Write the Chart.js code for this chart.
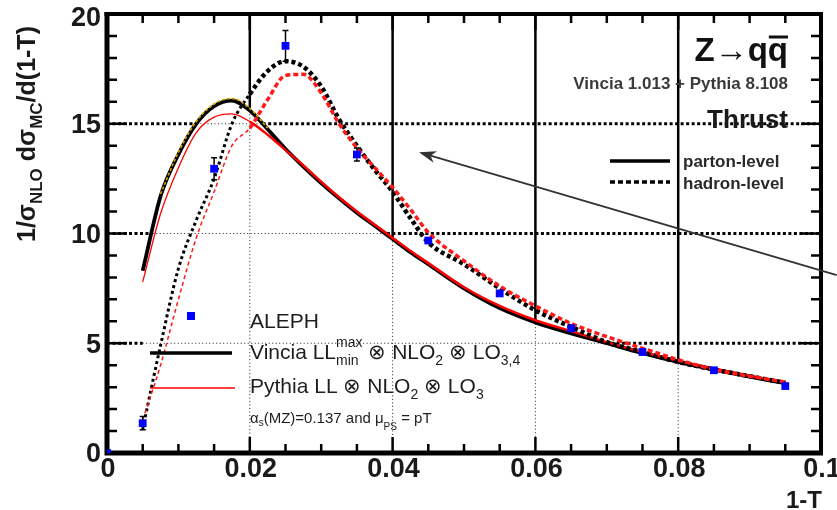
<!DOCTYPE html>
<html>
<head>
<meta charset="utf-8">
<script src="https://cdn.jsdelivr.net/npm/chart.js@4.4.0/dist/chart.umd.min.js"></script>
<style>
html,body{margin:0;padding:0;background:#fff;}
#c{display:block;}
</style>
</head>
<body>
<canvas id="c" width="837" height="510"></canvas>
<script>
// ---------- data ----------
const xTicks = [0, 0.02, 0.04, 0.06, 0.08, 0.1];
const xTickLabels = ['0', '0.02', '0.04', '0.06', '0.08', '0.1'];
const yTicks = [0, 5, 10, 15, 20];
const yTickLabels = ['0', '5', '10', '15', '20'];
const hGridValues = [5, 10, 15];
const vGridValues = [0.02, 0.04, 0.06, 0.08];

const binX = [0.005, 0.0075, 0.010, 0.0125, 0.015, 0.0175, 0.020, 0.0225, 0.025, 0.0275, 0.030, 0.0325, 0.035, 0.0375, 0.040, 0.0425, 0.045, 0.050, 0.055, 0.060, 0.065, 0.070, 0.075, 0.080, 0.085, 0.090, 0.095];
const vinciaParton = [8.3, 11.7, 13.6, 15.0, 15.8, 16.05, 15.6, 14.75, 13.85, 13.05, 12.3, 11.6, 10.95, 10.35, 9.75, 9.15, 8.6, 7.5, 6.6, 5.95, 5.45, 5.0, 4.55, 4.15, 3.8, 3.48, 3.18];
const pythiaParton = [7.8, 10.9, 13.0, 14.6, 15.3, 15.45, 15.1, 14.5, 13.8, 13.1, 12.35, 11.65, 11.0, 10.4, 9.8, 9.2, 8.65, 7.55, 6.7, 6.05, 5.55, 5.05, 4.6, 4.2, 3.85, 3.52, 3.22];
const vinciaHadron = [1.1, 4.9, 8.4, 10.6, 12.5, 15.0, 16.35, 17.4, 17.85, 17.6, 16.7, 15.2, 14.0, 12.9, 11.9, 10.7, 9.6, 8.6, 7.5, 6.5, 5.75, 5.05, 4.6, 4.15, 3.8, 3.5, 3.2];
const pythiaHadron = [1.5, 4.0, 7.0, 9.8, 11.9, 14.0, 14.8, 16.1, 17.2, 17.25, 16.4, 15.0, 13.9, 13.0, 12.1, 11.1, 10.05, 8.75, 7.6, 6.7, 5.9, 5.3, 4.77, 4.25, 3.8, 3.5, 3.23];

const goldX = [0.0075, 0.010, 0.0125, 0.015, 0.0175, 0.020, 0.0225];
const goldY = [11.8, 13.7, 15.1, 15.9, 16.15, 15.7, 14.8];

const alephX = [0.0, 0.005, 0.015, 0.025, 0.035, 0.045, 0.055, 0.065, 0.075, 0.085, 0.095];
const alephY = [0.0, 1.36, 12.95, 18.55, 13.6, 9.68, 7.27, 5.68, 4.6, 3.77, 3.05];
const alephErr = [0.05, 0.3, 0.5, 0.7, 0.3, 0.2, 0.15, 0.1, 0.1, 0.08, 0.08];

// arrow annotation, in data units: tail then tip
const arrowFrom = [0.1022, 8.1];
const arrowTo = [0.0437, 13.7];

// ---------- helpers ----------
const pts = (xs, ys) => xs.map((x, i) => ({x: x, y: ys[i]}));
function interp(xs, ys, xv) {
  if (xv < xs[0] || xv > xs[xs.length - 1]) return -Infinity;
  for (let i = 0; i < xs.length - 1; i++) {
    if (xv >= xs[i] && xv <= xs[i + 1]) {
      const t = (xv - xs[i]) / (xs[i + 1] - xs[i]);
      return ys[i] + t * (ys[i + 1] - ys[i]);
    }
  }
  return ys[ys.length - 1];
}
function envelope(xv) {
  return Math.max(interp(binX, vinciaParton, xv), interp(binX, pythiaParton, xv));
}
const FONT = '"Liberation Sans", Arial, Helvetica, sans-serif';
function rich(ctx, x, y, parts, color) {
  let cx = x;
  ctx.fillStyle = color;
  ctx.textAlign = 'left';
  ctx.textBaseline = 'alphabetic';
  for (const p of parts) {
    if (p.stack) {
      let w = 0;
      for (const s of p.stack) {
        ctx.font = (s.bold ? 'bold ' : '') + s.size + 'px ' + FONT;
        ctx.fillText(s.t, cx, y + (s.dy || 0));
        w = Math.max(w, ctx.measureText(s.t).width);
      }
      cx += w;
    } else {
      ctx.font = (p.bold ? 'bold ' : '') + p.size + 'px ' + FONT;
      ctx.fillText(p.t, cx, y + (p.dy || 0));
      cx += ctx.measureText(p.t).width;
    }
  }
  return cx;
}

const decor = {
  id: 'decor',
  beforeDatasetsDraw(chart) {
    const {ctx, scales: {x, y}} = chart;
    const X = v => x.getPixelForValue(v), Y = v => y.getPixelForValue(v);
    ctx.save();
    // horizontal grid: thick dotted where above the curves, thin dotted below
    const drawH = (x0, x1, gv, thin) => {
      ctx.beginPath();
      if (thin) { ctx.lineWidth = 1; ctx.setLineDash([1, 2.5]); ctx.strokeStyle = '#222'; }
      else { ctx.lineWidth = 3; ctx.setLineDash([3, 2.5]); ctx.strokeStyle = '#000'; }
      ctx.moveTo(X(x0), Y(gv)); ctx.lineTo(X(x1), Y(gv)); ctx.stroke();
    };
    for (const gv of hGridValues) {
      const step = 0.0002;
      let start = 0, thin = envelope(0) > gv;
      for (let k = 1; k <= 500; k++) {
        const xv = k * step;
        const t = envelope(xv) > gv;
        if (t !== thin || k === 500) {
          drawH(start, xv, gv, thin);
          start = xv; thin = t;
        }
      }
    }
    // vertical grid: solid above curves, thin dotted below
    for (const gv of vGridValues) {
      const e = envelope(gv);
      ctx.setLineDash([]); ctx.lineWidth = 2.5; ctx.strokeStyle = '#000';
      ctx.beginPath(); ctx.moveTo(X(gv), Y(20)); ctx.lineTo(X(gv), Y(e)); ctx.stroke();
      ctx.setLineDash([1, 2.5]); ctx.lineWidth = 1; ctx.strokeStyle = '#222';
      ctx.beginPath(); ctx.moveTo(X(gv), Y(e)); ctx.lineTo(X(gv), Y(0)); ctx.stroke();
    }
    ctx.setLineDash([]);
    ctx.strokeStyle = '#000';
    // ticks
    ctx.lineWidth = 2.5;
    for (let i = 0; i <= 20; i++) {
      const len = i % 5 === 0 ? 20 : 10;
      ctx.beginPath();
      ctx.moveTo(X(0), Y(i)); ctx.lineTo(X(0) + len, Y(i));
      ctx.moveTo(X(0.1), Y(i)); ctx.lineTo(X(0.1) - len, Y(i));
      ctx.stroke();
    }
    for (let i = 0; i <= 20; i++) {
      const xv = i * 0.005;
      const len = i % 4 === 0 ? 16 : 9;
      ctx.beginPath();
      ctx.moveTo(X(xv), Y(0)); ctx.lineTo(X(xv), Y(0) - len);
      ctx.moveTo(X(xv), Y(20)); ctx.lineTo(X(xv), Y(20) + len);
      ctx.stroke();
    }
    // frame
    ctx.lineWidth = 5;
    ctx.beginPath();
    ctx.moveTo(X(0), Y(20) - 2); ctx.lineTo(X(0), Y(0) + 2.5);
    ctx.moveTo(X(0) - 2.5, Y(0)); ctx.lineTo(X(0.1) + 2, Y(0));
    ctx.stroke();
    ctx.lineWidth = 4;
    ctx.beginPath();
    ctx.moveTo(X(0) - 2.5, Y(20)); ctx.lineTo(X(0.1) + 2, Y(20));
    ctx.moveTo(X(0.1), Y(20)); ctx.lineTo(X(0.1), Y(0));
    ctx.stroke();
    ctx.restore();
  },
  afterDatasetsDraw(chart) {
    const {ctx, scales: {x, y}} = chart;
    const X = v => x.getPixelForValue(v), Y = v => y.getPixelForValue(v);
    ctx.save();
    // ALEPH error bars
    ctx.strokeStyle = '#000'; ctx.lineWidth = 1.5;
    alephX.forEach((xv, i) => {
      const px = X(xv), py = Y(alephY[i]);
      const up = Y(alephY[i] + alephErr[i]), dn = Y(alephY[i] - alephErr[i]);
      if (py - up > 5) {
        ctx.beginPath(); ctx.moveTo(px, py - 4); ctx.lineTo(px, up);
        ctx.moveTo(px - 3, up); ctx.lineTo(px + 3, up); ctx.stroke();
      }
      if (dn - py > 5) {
        ctx.beginPath(); ctx.moveTo(px, py + 4); ctx.lineTo(px, dn);
        ctx.moveTo(px - 3, dn); ctx.lineTo(px + 3, dn); ctx.stroke();
      }
    });
    // arrow
    const ax0 = X(arrowFrom[0]), ay0 = Y(arrowFrom[1]);
    const ax1 = X(arrowTo[0]), ay1 = Y(arrowTo[1]);
    const ang = Math.atan2(ay1 - ay0, ax1 - ax0);
    ctx.strokeStyle = '#333'; ctx.fillStyle = '#333'; ctx.lineWidth = 1.8;
    ctx.beginPath(); ctx.moveTo(ax0, ay0);
    ctx.lineTo(ax1 - 12 * Math.cos(ang), ay1 - 12 * Math.sin(ang)); ctx.stroke();
    ctx.beginPath();
    ctx.moveTo(ax1, ay1);
    ctx.lineTo(ax1 - 17 * Math.cos(ang) + 6 * Math.sin(ang), ay1 - 17 * Math.sin(ang) - 6 * Math.cos(ang));
    ctx.lineTo(ax1 - 12 * Math.cos(ang), ay1 - 12 * Math.sin(ang));
    ctx.lineTo(ax1 - 17 * Math.cos(ang) - 6 * Math.sin(ang), ay1 - 17 * Math.sin(ang) + 6 * Math.cos(ang));
    ctx.closePath(); ctx.fill();

    // tick labels
    ctx.fillStyle = '#1a1a1a';
    ctx.font = 'bold 27px ' + FONT;
    ctx.textAlign = 'right'; ctx.textBaseline = 'middle';
    yTicks.forEach((v, i) => ctx.fillText(yTickLabels[i], X(0) - 6, Y(v) + (v === 20 ? 5 : 2)));
    ctx.textAlign = 'center'; ctx.textBaseline = 'top';
    xTicks.forEach((v, i) => ctx.fillText(xTickLabels[i], X(v) + 1, Y(0) + 3));
    // x title
    ctx.font = 'bold 24px ' + FONT;
    ctx.textAlign = 'right'; ctx.textBaseline = 'alphabetic';
    ctx.fillText('1-T', X(0.1) + 1, 508);
    // y title
    ctx.save();
    ctx.translate(35, 242);
    ctx.rotate(-Math.PI / 2);
    rich(ctx, 0, 0, [
      {t: '1/σ', size: 25, bold: true},
      {t: 'NLO', size: 17, bold: true, dy: 7},
      {t: ' dσ', size: 25, bold: true},
      {t: 'MC', size: 17, bold: true, dy: 7},
      {t: '/d(1-T)', size: 25, bold: true}
    ], '#1a1a1a');
    ctx.restore();

    // top right labels
    ctx.textAlign = 'right'; ctx.textBaseline = 'alphabetic';
    ctx.fillStyle = '#111';
    ctx.font = 'bold 33px ' + FONT;
    ctx.fillText('Z→qq', 788, 61);
    const qw = ctx.measureText('q').width;
    ctx.strokeStyle = '#111'; ctx.lineWidth = 3;
    ctx.beginPath(); ctx.moveTo(788 - qw + 1, 37); ctx.lineTo(788, 37); ctx.stroke();
    ctx.fillStyle = '#3a3a3a';
    ctx.font = 'bold 17px ' + FONT;
    ctx.fillText('Vincia 1.013 + Pythia 8.108', 788, 89);
    ctx.fillStyle = '#1a1a1a';
    ctx.font = 'bold 26px ' + FONT;
    ctx.fillText('Thrust', 788, 128);
    // parton / hadron legend
    ctx.strokeStyle = '#000'; ctx.lineWidth = 3.5;
    ctx.beginPath(); ctx.moveTo(610, 161); ctx.lineTo(670, 161); ctx.stroke();
    ctx.setLineDash([5, 3]);
    ctx.beginPath(); ctx.moveTo(610, 182); ctx.lineTo(670, 182); ctx.stroke();
    ctx.setLineDash([]);
    ctx.textAlign = 'left'; ctx.textBaseline = 'middle';
    ctx.fillStyle = '#2a2a2a';
    ctx.font = 'bold 17px ' + FONT;
    ctx.fillText('parton-level', 683, 162);
    ctx.fillText('hadron-level', 683, 184);

    // bottom-left legend
    ctx.fillStyle = '#0000ff';
    ctx.fillRect(187, 312, 8, 8);
    ctx.strokeStyle = '#000'; ctx.lineWidth = 3.5;
    ctx.beginPath(); ctx.moveTo(150, 353); ctx.lineTo(232, 353); ctx.stroke();
    ctx.strokeStyle = '#ff0000'; ctx.lineWidth = 1.5;
    ctx.beginPath(); ctx.moveTo(150, 388); ctx.lineTo(235, 388); ctx.stroke();
    const tc = '#1e1e1e';
    rich(ctx, 250, 328, [{t: 'ALEPH', size: 21}], tc);
    rich(ctx, 250, 359, [
      {t: 'Vincia LL', size: 21},
      {stack: [{t: 'max', size: 14, dy: -12}, {t: 'min', size: 14, dy: 6}]},
      {t: ' ⊗ NLO', size: 21},
      {t: '2', size: 14, dy: 6},
      {t: ' ⊗ LO', size: 21},
      {t: '3,4', size: 14, dy: 6}
    ], tc);
    rich(ctx, 250, 393, [
      {t: 'Pythia LL ⊗ NLO', size: 21},
      {t: '2', size: 14, dy: 6},
      {t: ' ⊗ LO', size: 21},
      {t: '3', size: 14, dy: 6}
    ], tc);
    rich(ctx, 250, 423, [
      {t: 'α', size: 15},
      {t: 's', size: 10, dy: 3},
      {t: '(MZ)=0.137 and μ', size: 15},
      {t: 'PS', size: 10, dy: 7},
      {t: ' = pT', size: 15}
    ], tc);
    ctx.restore();
  }
};

const lt = ctx => ctx.p0.parsed.x < 0.0199;

new Chart(document.getElementById('c'), {
  type: 'scatter',
  data: {
    datasets: [
      {label: 'ALEPH', data: pts(alephX, alephY), pointStyle: 'rect', pointRadius: 5.5,
       backgroundColor: '#0000ff', borderColor: '#0000ff', borderWidth: 0, showLine: false, order: 0},
      {label: 'Vincia (gold)', data: pts(goldX, goldY), showLine: true, pointRadius: 0,
       borderColor: '#d9a300', borderWidth: 1.6, borderDash: [3, 2], cubicInterpolationMode: 'monotone', order: 1},
      {label: 'Pythia hadron', data: pts(binX, pythiaHadron), showLine: true, pointRadius: 0,
       borderColor: '#ff1a1a', borderWidth: 3.5, borderDash: [5, 3], cubicInterpolationMode: 'monotone', order: 2,
       segment: {borderWidth: c => lt(c) ? 1.5 : 3.5, borderDash: c => lt(c) ? [4, 3] : [5, 3]}},
      {label: 'Vincia hadron', data: pts(binX, vinciaHadron), showLine: true, pointRadius: 0,
       borderColor: '#000', borderWidth: 4.5, borderDash: [4, 3], cubicInterpolationMode: 'monotone', order: 3,
       segment: {borderWidth: c => lt(c) ? 3 : 4.5, borderDash: c => lt(c) ? [3, 3] : [4, 3]}},
      {label: 'Pythia parton', data: pts(binX, pythiaParton), showLine: true, pointRadius: 0,
       borderColor: '#ff0000', borderWidth: 2.5, cubicInterpolationMode: 'monotone', order: 4,
       segment: {borderWidth: c => lt(c) ? 1.3 : 2.5}},
      {label: 'Vincia parton', data: pts(binX, vinciaParton), showLine: true, pointRadius: 0,
       borderColor: '#000', borderWidth: 3.8, cubicInterpolationMode: 'monotone', order: 5}
    ]
  },
  options: {
    responsive: false,
    animation: false,
    devicePixelRatio: 1,
    layout: {padding: {left: 107, right: 16, top: 14, bottom: 57}},
    scales: {
      x: {type: 'linear', min: 0, max: 0.1, display: false},
      y: {type: 'linear', min: 0, max: 20, display: false}
    },
    plugins: {legend: {display: false}, tooltip: {enabled: false}}
  },
  plugins: [decor]
});
</script>
</body>
</html>
